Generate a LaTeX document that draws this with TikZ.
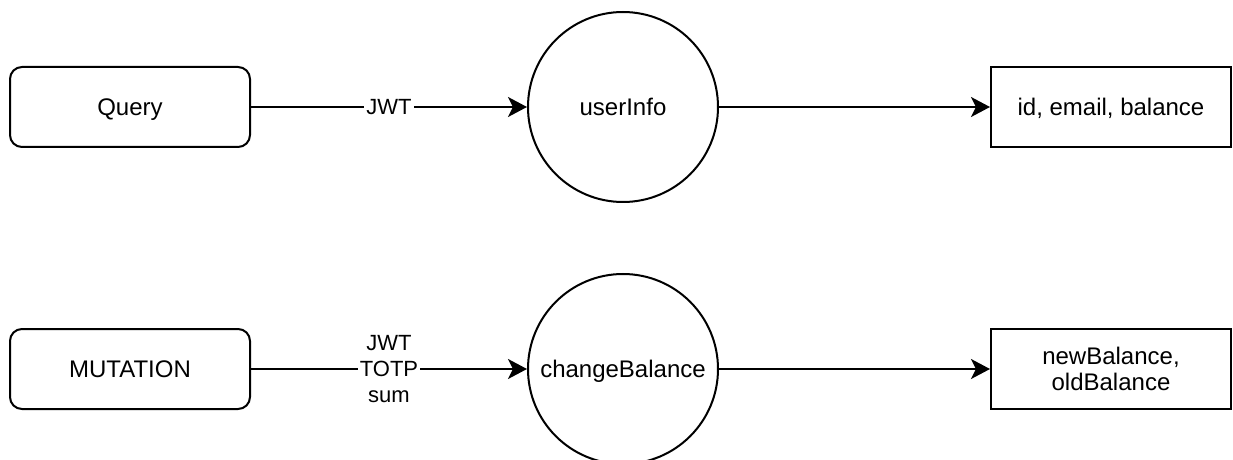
\documentclass[tikz,border=0pt]{standalone}
\usepackage{fontspec}
\setmainfont{Liberation Sans}
\usetikzlibrary{arrows.meta,positioning}
\tikzset{
  reqbox/.style={draw, rounded corners=6pt, minimum width=120pt, minimum height=40pt,
                 line width=1pt, align=center, text height=9pt, text depth=0.5pt,
                 font=\fontsize{12}{13.5}\selectfont},
  fncirc/.style={draw, circle, minimum size=95pt, inner sep=0pt, line width=1pt,
                 align=center, text height=9pt, text depth=0.5pt,
                 font=\fontsize{12}{13.5}\selectfont},
  resbox/.style={draw, minimum width=120pt, minimum height=40pt,
                 line width=1pt, align=center, text height=9pt, text depth=0.5pt,
                 font=\fontsize{12}{13.3}\selectfont},
  ar/.style={-{Stealth[length=9.5pt, width=10pt, inset=2.5pt]}, line width=1pt},
  lbl/.style={fill=white, inner sep=1pt, align=center, font=\fontsize{11}{13.2}\selectfont},
}

\begin{document}
\begin{tikzpicture}[node distance=90pt and 138pt]
\useasboundingbox (0,0) rectangle (616.5pt,-230pt);

% query row
\node[reqbox] (query) at (65pt,-53.5pt) {Query};
\node[fncirc, right=of query] (userinfo) {userInfo};
\node[resbox, right=135.5pt of userinfo] (userdata) {id, email, balance};

% mutation row
\node[reqbox, below=of query] (mutation) {MUTATION};
\node[fncirc, right=of mutation] (changebal) {changeBalance};
\node[resbox, right=135.5pt of changebal, text height=, text depth=] (baldata)
  {newBalance,\\oldBalance};

\draw[ar] (query) -- node[lbl] {JWT} (userinfo);
\draw[ar] (userinfo) -- (userdata);
\draw[ar] (mutation) -- node[lbl] {JWT\\TOTP\\sum} (changebal);
\draw[ar] (changebal) -- (baldata);
\end{tikzpicture}
\end{document}
